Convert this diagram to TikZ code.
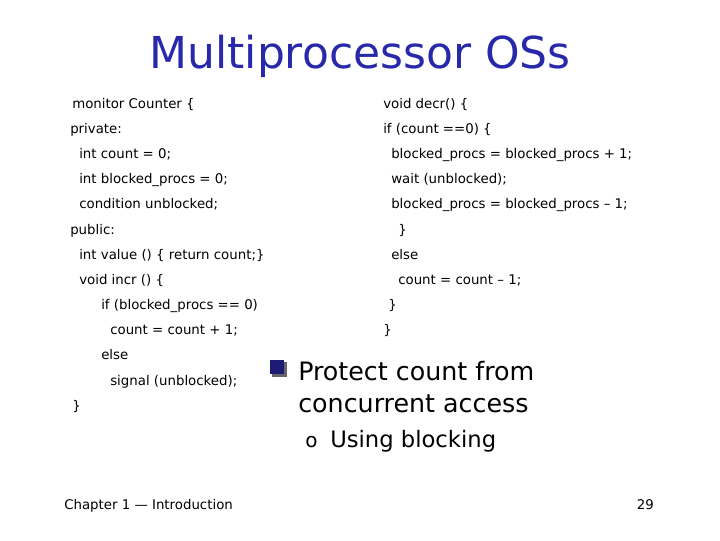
\documentclass[tikz,border=0pt]{standalone}
\usepackage{fontspec}
\setmainfont{DejaVu Sans}
\definecolor{titleblue}{RGB}{40,40,170}
\tikzset{
  code/.style={anchor=base west, inner sep=0pt, font=\fontsize{10}{12}\selectfont},
  big/.style={anchor=base west, inner sep=0pt, font=\fontsize{19}{22}\selectfont},
  foot/.style={anchor=base west, inner sep=0pt, font=\fontsize{10}{12}\selectfont}
}
\begin{document}
\begin{tikzpicture}[x=0.75pt,y=-0.75pt]
  % Seitengroesse
  \useasboundingbox (0,0) rectangle (720,540);

  % Titel
  \node[anchor=base, inner sep=0pt, text=titleblue, font=\fontsize{33}{38}\selectfont] (title) at (360,68) {Multiprocessor OSs};

  % linke Spalte
  \node[code] (l1) at (72,108) {monitor Counter \{};
  \node[code] (l2) at (70,133) {private:};
  \node[code] (l3) at (79,158) {int count = 0;};
  \node[code] (l4) at (79,183) {int blocked\_procs = 0;};
  \node[code] (l5) at (79,208) {condition unblocked;};
  \node[code] (l6) at (70,234) {public:};
  \node[code] (l7) at (79,259) {int value () \{ return count;\}};
  \node[code] (l8) at (79,284) {void incr () \{};
  \node[code] (l9) at (101,309) {if (blocked\_procs == 0)};
  \node[code] (l10) at (110,334) {count = count + 1;};
  \node[code] (l11) at (101,359) {else};
  \node[code] (l12) at (110,385) {signal (unblocked);};
  \node[code] (l13) at (72,410) {\}};

  % rechte Spalte
  \node[code] (r1) at (383,108) {void decr() \{};
  \node[code] (r2) at (383,133) {if (count ==0) \{};
  \node[code] (r3) at (391,158) {blocked\_procs = blocked\_procs + 1;};
  \node[code] (r4) at (391,183) {wait (unblocked);};
  \node[code] (r5) at (391,208) {blocked\_procs = blocked\_procs -- 1;};
  \node[code] (r6) at (398,234) {\}};
  \node[code] (r7) at (391,259) {else};
  \node[code] (r8) at (398,284) {count = count -- 1;};
  \node[code] (r9) at (388,309) {\}};
  \node[code] (r10) at (383,334) {\}};

  % Aufzaehlung
  \fill[black!60] (272,362) rectangle (287,377);
  \fill[titleblue!70!black] (270,360) rectangle (284,374);
  \node[big] (p1) at (298,380) {Protect count from};
  \node[big] (p2) at (298,412) {concurrent access};
  \node[anchor=base west, inner sep=0pt, font=\fontsize{15}{18}\selectfont] (o) at (305,447) {o};
  \node[anchor=base west, inner sep=0pt, font=\fontsize{17}{20}\selectfont] (p3) at (330,447) {Using blocking};

  % Fusszeile
  \node[foot] (chap) at (64,509) {Chapter 1 — Introduction};
  \node[anchor=base east, inner sep=0pt, font=\fontsize{10}{12}\selectfont] (num) at (654,509) {29};
\end{tikzpicture}
\end{document}
